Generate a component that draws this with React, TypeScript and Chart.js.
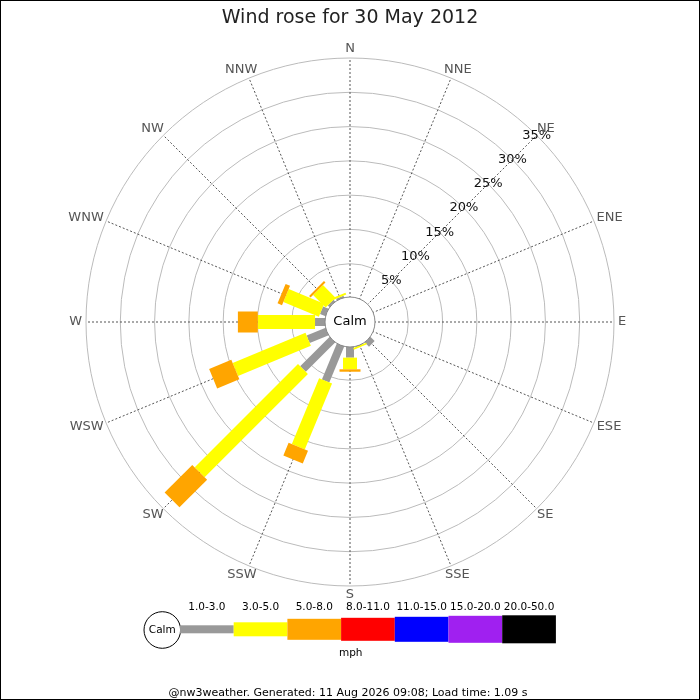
import React, { useEffect, useRef } from "react";
import { Chart, registerables } from "chart.js";

Chart.register(...registerables);

const TITLE = "Wind rose for 30 May 2012";
const FOOTER = "@nw3weather. Generated: 11 Aug 2026 09:08; Load time: 1.09 s";
const UNITS = "mph";
const CALM_LABEL = "Calm";

const DIRECTIONS = ["N", "NNE", "NE", "ENE", "E", "ESE", "SE", "SSE", "S", "SSW", "SW", "WSW", "W", "WNW", "NW", "NNW"];
// frequency (%) per direction and speed class
const SPEED_1_3 = [0, 0, 0, 0, 0, 0, 1.0, 0.2, 1.7, 5.8, 6.2, 3.1, 1.6, 1.0, 0.5, 0.4];
const SPEED_3_5 = [0, 0, 0, 0, 0, 0, 0, 0.25, 1.7, 10.4, 21.3, 11.5, 8.35, 5.6, 2.6, 0.3];
const SPEED_5_8 = [0, 0, 0, 0, 0, 0, 0, 0, 0.35, 2.0, 5.7, 3.5, 2.9, 0.7, 0.3, 0];
const SPEED_CLASSES = ["1.0-3.0", "3.0-5.0", "5.0-8.0", "8.0-11.0", "11.0-15.0", "15.0-20.0", "20.0-50.0"];
const CLASS_COLORS = ["#999999", "#ffff00", "#ffa500", "#ff0000", "#0000ff", "#a020f0", "#000000"];
const PCT_TICKS = [5, 10, 15, 20, 25, 30, 35];

const FONT = "'DejaVu Sans', 'Liberation Sans', sans-serif";
const BAR_WIDTHS = [8, 14, 21, 23, 25, 27, 28];

const windRosePlugin = {
  id: "windRose",
  afterDatasetsDraw(chart: any) {
    const scale = chart.scales.r;
    const ctx = chart.ctx as CanvasRenderingContext2D;
    const xc = scale.xCenter;
    const yc = scale.yCenter;
    const datasets = chart.data.datasets;
    const labels: string[] = chart.data.labels;
    const n = labels.length;
    const bases = new Array(n).fill(0);
    datasets.forEach((ds: any, k: number) => {
      ctx.save();
      ctx.fillStyle = CLASS_COLORS[k];
      for (let i = 0; i < n; i++) {
        const v = ds.data[i] || 0;
        if (v <= 0) continue;
        const r0 = scale.getDistanceFromCenterForValue(bases[i]);
        const r1 = scale.getDistanceFromCenterForValue(bases[i] + v);
        bases[i] += v;
        const w = BAR_WIDTHS[k];
        ctx.save();
        ctx.translate(xc, yc);
        ctx.rotate(scale.getIndexAngle(i) - Math.PI / 2);
        ctx.fillRect(r0, -w / 2, r1 - r0, w);
        ctx.restore();
      }
      ctx.restore();
    });

    // calm circle
    const rc = scale.getDistanceFromCenterForValue(0) + 1;
    ctx.save();
    ctx.beginPath();
    ctx.arc(xc, yc, rc, 0, Math.PI * 2);
    ctx.fillStyle = "#ffffff";
    ctx.fill();
    ctx.strokeStyle = "#888888";
    ctx.lineWidth = 1;
    ctx.stroke();
    ctx.fillStyle = "#000000";
    ctx.font = `13px ${FONT}`;
    ctx.textAlign = "center";
    ctx.textBaseline = "middle";
    ctx.fillText(CALM_LABEL, xc, yc);

    // percentage ticks along the NE spoke
    const neIndex = labels.indexOf("NE");
    ctx.fillStyle = "#111111";
    PCT_TICKS.forEach((v) => {
      const p = scale.getPointPositionForValue(neIndex, v);
      ctx.fillText(v + "%", p.x, p.y);
    });

    // compass labels
    ctx.fillStyle = "#555555";
    ctx.font = `13px ${FONT}`;
    const R = scale.drawingArea;
    labels.forEach((lab, i) => {
      const a = scale.getIndexAngle(i) - Math.PI / 2;
      const dx = Math.cos(a);
      const dy = Math.sin(a);
      const w = ctx.measureText(lab).width;
      const h = 10;
      const x = xc + (R + 4) * dx + (dx * w) / 2;
      const y = yc + (R + 4) * dy + (dy * h) / 2;
      ctx.fillText(lab, x, y);
    });
    ctx.restore();
  },
  afterDraw(chart: any) {
    const ctx = chart.ctx as CanvasRenderingContext2D;
    const area = chart.chartArea;
    const cx = (area.left + area.right) / 2;
    const legendY = area.bottom + 43.3;
    const segW = 53.7;
    const segX0 = 179;
    ctx.save();
    // calm circle in legend
    ctx.beginPath();
    ctx.arc(161.3, legendY + 0.7, 18.3, 0, Math.PI * 2);
    ctx.fillStyle = "#ffffff";
    ctx.fill();
    ctx.strokeStyle = "#000000";
    ctx.lineWidth = 1;
    ctx.stroke();
    ctx.fillStyle = "#000000";
    ctx.textAlign = "center";
    ctx.textBaseline = "middle";
    ctx.font = `10.5px ${FONT}`;
    ctx.fillText(CALM_LABEL, 161.3, legendY + 0.7);
    SPEED_CLASSES.forEach((lab, k) => {
      const h = BAR_WIDTHS[k];
      const x = segX0 + k * segW;
      ctx.fillStyle = CLASS_COLORS[k];
      ctx.fillRect(x, legendY - h / 2, segW, h);
      ctx.fillStyle = "#000000";
      ctx.fillText(lab, x + segW / 2, legendY - 22);
    });
    ctx.fillText(UNITS, cx + 0.7, legendY + 24);
    ctx.font = `11px ${FONT}`;
    ctx.fillText(FOOTER, cx - 2, legendY + 64);
    ctx.restore();
  },
};

export default function App() {
  const ref = useRef<HTMLCanvasElement>(null);
  useEffect(() => {
    const canvas = ref.current;
    if (!canvas) return;
    const chart = new Chart(canvas, {
      type: "radar",
      data: {
        labels: DIRECTIONS,
        datasets: [
          { label: SPEED_CLASSES[0], data: SPEED_1_3 },
          { label: SPEED_CLASSES[1], data: SPEED_3_5 },
          { label: SPEED_CLASSES[2], data: SPEED_5_8 },
        ].map((d) => ({
          ...d,
          showLine: false,
          pointRadius: 0,
          pointHoverRadius: 0,
          borderWidth: 0,
          backgroundColor: "rgba(0,0,0,0)",
          borderColor: "rgba(0,0,0,0)",
          fill: false,
        })),
      },
      options: {
        responsive: false,
        animation: false,
        events: [],
        layout: { padding: { top: 0, left: 85, right: 85, bottom: 113 } },
        plugins: {
          legend: { display: false },
          tooltip: { enabled: false },
          title: {
            display: true,
            text: TITLE,
            color: "#222222",
            font: { family: FONT, size: 19, weight: "normal", lineHeight: "23px" },
            padding: { top: 6, bottom: 28 },
          },
        },
        scales: {
          r: {
            min: -3.5,
            max: 35,
            afterBuildTicks: (axis: any) => {
              axis.ticks = [0, ...PCT_TICKS].map((v) => ({ value: v }));
            },
            ticks: { display: false },
            pointLabels: { display: false },
            grid: { circular: true, color: "#bbbbbb", lineWidth: 1 },
            angleLines: { display: true, color: "#555555", lineWidth: 1, borderDash: [2, 2] },
          },
        },
      } as any,
      plugins: [windRosePlugin],
    });
    return () => chart.destroy();
  }, []);
  return (
    <div
      style={{
        position: "fixed",
        left: 0,
        top: 0,
        width: 700,
        height: 700,
        boxSizing: "border-box",
        border: "1px solid #000",
        background: "#fff",
      }}
    >
      <canvas ref={ref} width={698} height={698} style={{ display: "block", width: 698, height: 698 }} />
    </div>
  );
}
